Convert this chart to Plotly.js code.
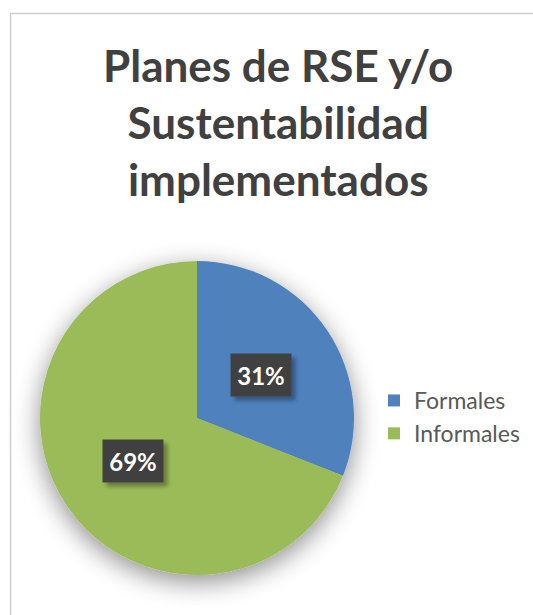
<!DOCTYPE html>
<html>
<head>
<meta charset="utf-8">
<script src="https://cdn.plot.ly/plotly-3.0.1.min.js"></script>
<style>
  html, body { margin: 0; padding: 0; background: #ffffff; }
  #chart { width: 533px; height: 615px; }
  .annotation .bg { filter: url(#boxShadow); }
</style>
</head>
<body>
<svg width="0" height="0" style="position:absolute">
  <defs>
    <filter id="pieShadow" filterUnits="userSpaceOnUse" x="0" y="200" width="420" height="415">
      <feGaussianBlur in="SourceAlpha" stdDeviation="13"/>
      <feOffset dx="0" dy="7"/>
      <feComponentTransfer><feFuncA type="linear" slope="0.45"/></feComponentTransfer>
      <feMerge><feMergeNode/><feMergeNode in="SourceGraphic"/></feMerge>
    </filter>
    <filter id="boxShadow" x="-20%" y="-20%" width="150%" height="160%">
      <feGaussianBlur in="SourceAlpha" stdDeviation="2"/>
      <feOffset dx="4" dy="4"/>
      <feComponentTransfer><feFuncA type="linear" slope="0.35"/></feComponentTransfer>
      <feMerge><feMergeNode/><feMergeNode in="SourceGraphic"/></feMerge>
    </filter>
  </defs>
</svg>
<div id="chart"></div>
<script>
const categories = ["Formales", "Informales"];
const values = [31, 69];
const sliceColors = ["#4f81bd", "#9bbb59"];
const percentLabels = ["31%", "69%"];
const chartTitle = "Planes de RSE y/o<br>Sustentabilidad<br>implementados";

const W = 533, H = 615;
const domX = [40 / W, 354 / W];
const domY = [40 / H, 354 / H];

// label positions derived from data (clockwise from 12 o'clock)
const total = values.reduce((a, b) => a + b, 0);
const cxP = (domX[0] + domX[1]) / 2, cyP = (domY[0] + domY[1]) / 2;
const Rpx = Math.min((domX[1] - domX[0]) * W, (domY[1] - domY[0]) * H) / 2;
const labelFrac = 0.49;
let acc = 0;
const annotations = values.map((v, i) => {
  const mid = (acc + v / 2) / total * 2 * Math.PI;
  acc += v;
  return {
    xref: "paper", yref: "paper",
    x: cxP + labelFrac * Rpx * Math.sin(mid) / W,
    y: cyP + labelFrac * Rpx * Math.cos(mid) / H,
    text: "<b>" + percentLabels[i] + "</b>",
    showarrow: false,
    font: { family: "Lato, 'Open Sans', sans-serif", size: 24, color: "#ffffff" },
    bgcolor: "#404040",
    width: 58, height: 40,
    xanchor: "center", yanchor: "middle"
  };
});

const trace = {
  type: "pie",
  labels: categories,
  values: values,
  marker: { colors: sliceColors, line: { width: 0 } },
  sort: false,
  direction: "clockwise",
  rotation: 0,
  textinfo: "none",
  hoverinfo: "label+percent",
  domain: { x: domX, y: domY }
};

const layout = {
  width: W, height: H,
  margin: { l: 0, r: 0, t: 0, b: 0 },
  paper_bgcolor: "#ffffff",
  title: {
    text: "<b>" + chartTitle + "</b>",
    font: { family: "Lato, 'Open Sans', sans-serif", size: 44, color: "#404040" },
    x: 0.522, xanchor: "center",
    y: 1 - 82 / H, yanchor: "top"
  },
  showlegend: true,
  legend: {
    x: 374 / W, xanchor: "left",
    y: (H - 417) / H, yanchor: "middle",
    font: { family: "Lato, 'Open Sans', sans-serif", size: 23, color: "#595959" },
    bgcolor: "rgba(0,0,0,0)",
    borderwidth: 0
  },
  annotations: annotations,
  shapes: [{
    type: "rect", xref: "paper", yref: "paper",
    x0: 10.5 / W, x1: 1.05, y0: -0.05, y1: 1 - 13.5 / H,
    line: { color: "#cfcfcf", width: 1.5 }, fillcolor: "rgba(0,0,0,0)",
    layer: "below"
  }]
};

Plotly.newPlot("chart", [trace], layout, { displayModeBar: false, staticPlot: true }).then(function (gd) {
  gd.querySelectorAll(".pielayer .trace").forEach(function (g) {
    g.setAttribute("filter", "url(#pieShadow)");
  });
});
</script>
</body>
</html>
